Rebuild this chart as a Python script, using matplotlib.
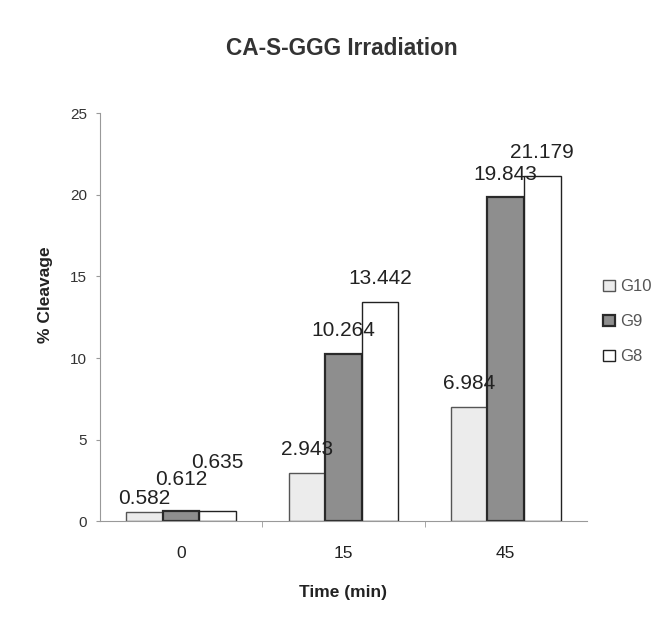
import numpy as np
import matplotlib.pyplot as plt

plt.rcParams['font.family'] = ['Liberation Sans', 'DejaVu Sans']

# data
times = ['0', '15', '45']
g10 = [0.582, 2.943, 6.984]
g9 = [0.612, 10.264, 19.843]
g8 = [0.635, 13.442, 21.179]

series = [('G10', g10, '#ececec', '#555555', 1.0),
          ('G9', g9, '#8e8e8e', '#2a2a2a', 1.6),
          ('G8', g8, '#ffffff', '#222222', 1.0)]

# label offsets (points) - the first group is staggered in the original
label_offsets = [[3, 16, 28], [10, 10, 10], [10, 10, 10]]

fig = plt.figure(figsize=(6.7, 6.19), dpi=100)
ax = fig.add_axes([0.149, 0.158, 0.727, 0.659])

x = np.arange(len(times))
w = 0.225
for i, (name, vals, fc, ec, lw) in enumerate(series):
    pos = x + (i - 1) * w
    ax.bar(pos, vals, width=w, color=fc, edgecolor=ec, linewidth=lw, label=name)
    for j, v in enumerate(vals):
        ax.annotate(f'{v:.3f}', (pos[j], v), xytext=(0, label_offsets[j][i]),
                    textcoords='offset points', ha='center', va='bottom',
                    fontsize=15, color='#222222')

ax.set_xlim(-0.5, 2.5)
ax.set_ylim(0, 25)
ax.set_yticks([0, 5, 10, 15, 20, 25])
ax.set_xticks(x)
ax.set_xticklabels(times)
ax.set_xticks([0.5, 1.5], minor=True)
ax.tick_params(axis='x', which='major', length=0, labelsize=12.5, pad=18, colors='#222222')
ax.tick_params(axis='x', which='minor', length=4, color='#999999')
ax.tick_params(axis='y', length=3, color='#999999', labelsize=11, labelcolor='#333333', pad=6)

for s in ['top', 'right']:
    ax.spines[s].set_visible(False)
ax.spines['left'].set_color('#999999')
ax.spines['bottom'].set_color('#999999')

ax.set_xlabel('Time (min)', fontsize=12.5, fontweight='bold', color='#222222', labelpad=17)
ax.set_ylabel('% Cleavage', fontsize=12.5, fontweight='bold', color='#222222')
ax.yaxis.set_label_coords(-0.097, 0.555)
fig.text(0.51, 0.922, 'CA-S-GGG Irradiation', ha='center', va='center',
         fontsize=16.3, fontweight='bold', color='#333333')

leg = fig.legend(loc='center left', bbox_to_anchor=(0.878, 0.48), frameon=False,
                 fontsize=12, handlelength=0.7, handleheight=0.7, handletextpad=0.3,
                 labelspacing=1.2, labelcolor='#555555')

fig.savefig('out.png', dpi=100)
